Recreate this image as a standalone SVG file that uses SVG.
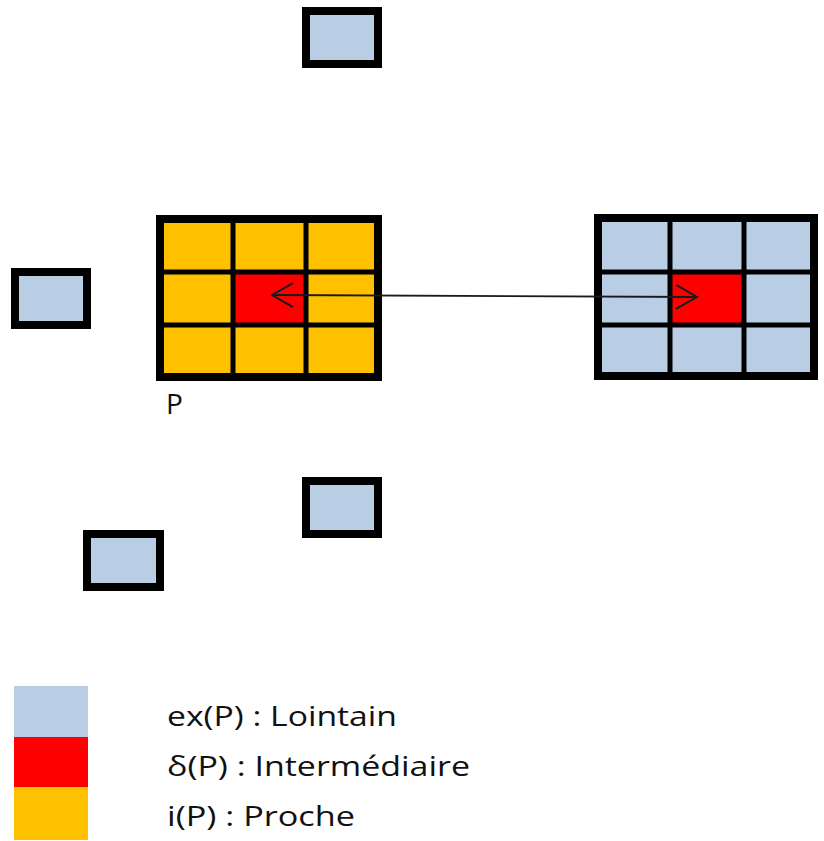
<svg xmlns="http://www.w3.org/2000/svg" width="824" height="841" viewBox="0 0 824 841">
<style>
.box{fill:#B9CDE5;stroke:#000;stroke-width:8}
.outer{fill:none;stroke:#000;stroke-width:8}
.inner{stroke:#000;stroke-width:5}
.yel{fill:#FFC000}
.blu{fill:#B9CDE5}
.red{fill:#FF0000}
.txt{font-family:"Open Sans","Liberation Sans",Arial,sans-serif;font-size:28px;fill:#111}
.conn{stroke:#1a1a1a;stroke-width:1.8;fill:none}
</style>
<defs>
<marker id="chev" markerUnits="userSpaceOnUse" markerWidth="30" markerHeight="30" viewBox="-24 -15 28 30" refX="0" refY="0" orient="auto-start-reverse">
<path d="M-21,-12 L0,0 L-21,12" fill="none" stroke="#1a1a1a" stroke-width="2"/>
</marker>
</defs>
<rect width="824" height="841" fill="#fff"/>

<g id="box-top"><rect class="box" x="306" y="11" width="72" height="53"/></g>
<g id="box-left"><rect class="box" x="15" y="272" width="72" height="53"/></g>
<g id="box-bottom-right"><rect class="box" x="306" y="481" width="72" height="53"/></g>
<g id="box-bottom-left"><rect class="box" x="87" y="534" width="73" height="53"/></g>

<g id="grid-P">
<rect class="yel" x="160" y="219" width="218" height="158"/>
<rect class="red" x="233" y="272" width="73" height="53"/>
<line class="inner" x1="233" y1="219" x2="233" y2="377"/>
<line class="inner" x1="306" y1="219" x2="306" y2="377"/>
<line class="inner" x1="160" y1="272" x2="378" y2="272"/>
<line class="inner" x1="160" y1="325" x2="378" y2="325"/>
<rect class="outer" x="160" y="219" width="218" height="158"/>
<text class="txt" x="166" y="414">P</text>
</g>

<g id="grid-right">
<rect class="blu" x="598" y="218" width="216" height="158"/>
<rect class="red" x="670" y="272" width="74" height="53"/>
<line class="inner" x1="670" y1="218" x2="670" y2="376"/>
<line class="inner" x1="744" y1="218" x2="744" y2="376"/>
<line class="inner" x1="598" y1="272" x2="814" y2="272"/>
<line class="inner" x1="598" y1="325" x2="814" y2="325"/>
<rect class="outer" x="598" y="218" width="216" height="158"/>
</g>

<g id="connectors">
<line class="conn" x1="272" y1="295" x2="697" y2="297" marker-start="url(#chev)" marker-end="url(#chev)"/>
</g>

<g id="legend">
<rect class="blu" x="14" y="686" width="74" height="51"/>
<rect class="red" x="14" y="737" width="74" height="50"/>
<rect class="yel" x="14" y="787" width="74" height="53"/>
<text class="txt" x="167" y="726" textLength="230" lengthAdjust="spacingAndGlyphs">ex(P) : Lointain</text>
<text class="txt" x="167" y="776" textLength="303" lengthAdjust="spacingAndGlyphs">δ(P) : Intermédiaire</text>
<text class="txt" x="167" y="826" textLength="188" lengthAdjust="spacingAndGlyphs">i(P) : Proche</text>
</g>
</svg>
